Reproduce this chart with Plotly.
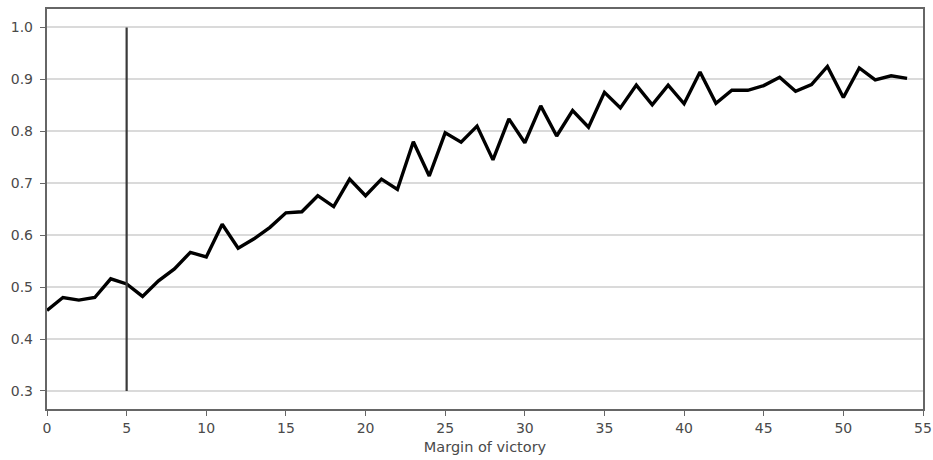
import plotly.graph_objects as go

margin = list(range(0, 55))
win_prob = [0.455, 0.480, 0.475, 0.480, 0.516, 0.506, 0.482, 0.512, 0.535, 0.567,
            0.558, 0.621, 0.575, 0.593, 0.615, 0.643, 0.645, 0.676, 0.655, 0.708,
            0.676, 0.708, 0.688, 0.780, 0.714, 0.797, 0.779, 0.810, 0.745, 0.824,
            0.778, 0.849, 0.791, 0.840, 0.808, 0.875, 0.845, 0.889, 0.851, 0.889,
            0.853, 0.914, 0.854, 0.879, 0.879, 0.888, 0.904, 0.877, 0.890, 0.925,
            0.865, 0.922, 0.899, 0.907, 0.902]
vline_x = [5, 5]
vline_y = [0.3, 1.0]
x_ticks = list(range(0, 56, 5))
y_ticks = [0.3, 0.4, 0.5, 0.6, 0.7, 0.8, 0.9, 1.0]

fig = go.Figure()
fig.add_trace(go.Scatter(x=margin, y=win_prob, mode="lines",
                         line=dict(color="black", width=3.4), showlegend=False))
fig.add_trace(go.Scatter(x=vline_x, y=vline_y, mode="lines",
                         line=dict(color="#3a3a3a", width=2.2), showlegend=False))

axis_common = dict(showline=True, linecolor="#666666", linewidth=1.5, mirror=True,
                   ticks="outside", ticklen=5, tickcolor="#666666", tickwidth=1.2,
                   tickfont=dict(family="DejaVu Sans", size=14, color="#4a4a4a"),
                   zeroline=False, automargin=False)

fig.update_layout(
    width=933, height=460,
    margin=dict(l=47, r=10, t=9, b=51),
    paper_bgcolor="white", plot_bgcolor="white",
    xaxis=dict(range=[0, 55], tickvals=x_ticks, showgrid=False,
               title=dict(text="Margin of victory", standoff=7,
                          font=dict(family="DejaVu Sans", size=14.5, color="#4a4a4a")),
               **axis_common),
    yaxis=dict(range=[0.2653, 1.0355], tickvals=y_ticks,
               ticktext=[f"{v:.1f} " for v in y_ticks],
               showgrid=True, gridcolor="#dadada", gridwidth=2,
               **axis_common),
)

fig.write_html("out.html", config={"displayModeBar": False},
               post_script="document.body.style.margin='0';document.body.style.overflow='hidden';")
